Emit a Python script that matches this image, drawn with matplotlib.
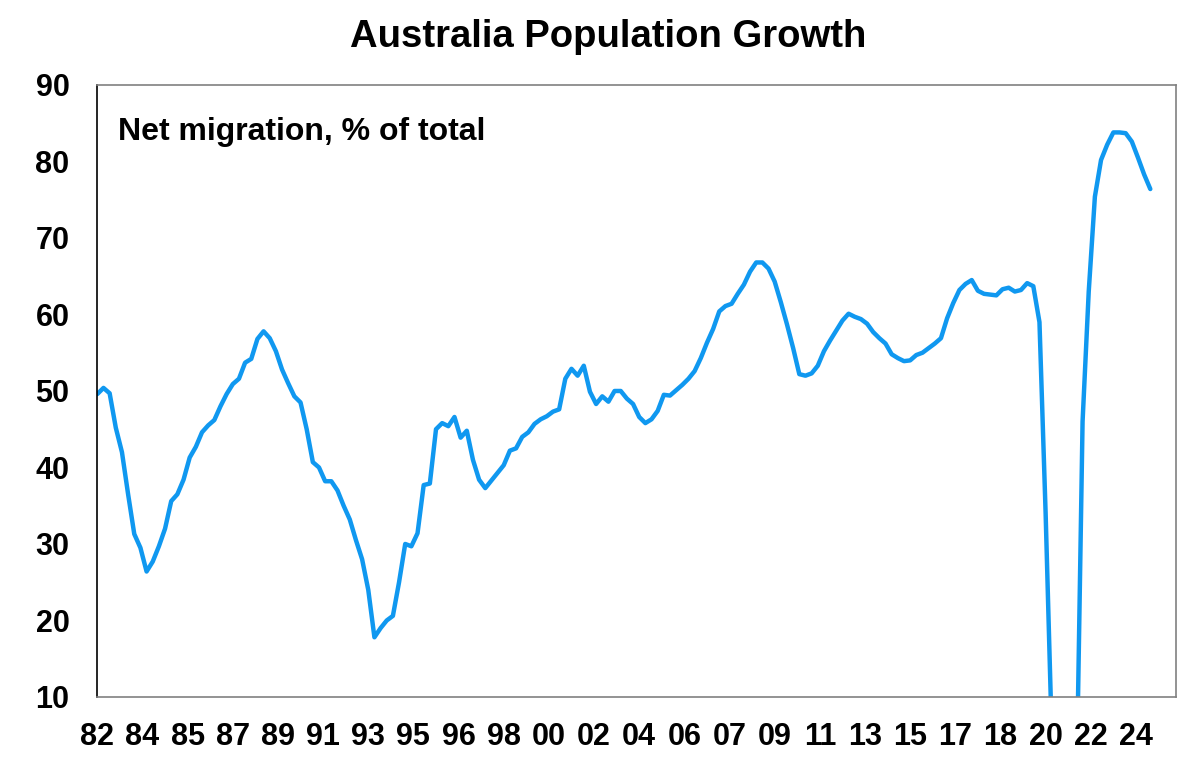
"""
Australia population growth: net migration as a share of total growth.
Quarterly series from Mar-82, drawn on a month axis with labels every 22 months.
"""

import numpy as np
import matplotlib
matplotlib.use("Agg")
import matplotlib.pyplot as plt

# net migration, % of total population growth (quarterly, from Mar-82)
net_migration_pct = [
    49.6, 50.4, 49.7, 45.2, 42.0, 36.5, 31.3, 29.5, 26.4,
    27.7, 29.7, 32.0, 35.6, 36.5, 38.4, 41.3, 42.7, 44.6, 45.5, 46.2, 48.0,
    49.6, 50.9, 51.6, 53.7, 54.2, 56.8, 57.8, 56.9, 55.2, 52.8, 51.0, 49.3, 48.5,
    45.0, 40.7, 40.0, 38.2, 38.2, 37.0, 35.0, 33.2, 30.5, 28.0, 24.0,
    17.8, 19.0, 20.0, 20.6, 25.0, 30.0, 29.7, 31.4, 37.7, 37.9, 45.0, 45.8,
    45.4, 46.6, 43.9, 44.8,
    41.0, 38.4, 37.3, 38.3, 39.3, 40.3, 42.2, 42.5, 44.0, 44.6, 45.7, 46.3,
    46.7, 47.3, 47.6,
    51.6, 52.9, 52.0, 53.3, 49.9, 48.3, 49.3, 48.6, 50.0, 50.0, 49.0, 48.3,
    46.6, 45.8, 46.3, 47.4,
    49.5, 49.4, 50.1, 50.8, 51.6, 52.6, 54.3, 56.3, 58.1, 60.4, 61.1, 61.4,
    62.7, 63.9, 65.6, 66.8,
    66.8, 66.0, 64.3, 61.6, 58.7, 55.6, 52.2, 52.0, 52.3, 53.3, 55.2, 56.6,
    57.9, 59.2,
    60.1, 59.7, 59.4, 58.8, 57.7, 56.9, 56.2, 54.8, 54.3, 53.9, 54.0, 54.7,
    55.0, 55.6, 56.2, 56.9,
    59.5, 61.5, 63.2, 64.0, 64.5, 63.1, 62.7, 62.6, 62.5, 63.3, 63.5, 63.0,
    63.2, 64.1, 63.7, 59.0,
    34.0, 5.0, -20.0, -35.0, -25.0, -3.0, 46.0, 63.0, 75.4, 80.2, 82.2, 83.8,
    83.8, 83.7, 82.6, 80.5, 78.3, 76.4,
]
# x-axis labels, one every 22 months starting Mar-82
tick_labels = ["82", "84", "85", "87", "89", "91", "93", "95", "96", "98",
               "00", "02", "04", "06", "07", "09", "11", "13", "15", "17",
               "18", "20", "22", "24"]
y_ticks = [10, 20, 30, 40, 50, 60, 70, 80, 90]

plt.rcParams['font.family'] = ['Liberation Sans', 'DejaVu Sans']
plt.rcParams['font.weight'] = 'bold'

months = np.arange(len(net_migration_pct)) * 3   # months since Mar-82
tick_pos = np.arange(len(tick_labels)) * 22

fig = plt.figure(figsize=(12, 7.72), dpi=100)
ax = fig.add_axes([0.0811, 0.0972, 0.8987, 0.7927])

ax.plot(months, net_migration_pct, color='#1098F0', linewidth=3.2,
        solid_joinstyle='round', solid_capstyle='round', clip_on=True)

ax.set_xlim(0, 525.4)
ax.set_ylim(10, 90)
ax.set_xticks(tick_pos)
ax.set_xticklabels(tick_labels)
ax.set_yticks(y_ticks)
ax.tick_params(axis='both', length=0, labelsize=22)
ax.tick_params(axis='x', pad=18)
ax.tick_params(axis='y', pad=20)
for lbl in ax.get_xticklabels() + ax.get_yticklabels():
    lbl.set_fontweight('bold')

for side in ['top', 'right', 'bottom']:
    ax.spines[side].set_color('#808080')
    ax.spines[side].set_linewidth(1.2)
ax.spines['left'].set_color('black')
ax.spines['left'].set_linewidth(1.2)

ax.text(0.0192, 0.923, "Net migration, % of total", transform=ax.transAxes,
        fontsize=23, fontweight='bold', va='center', ha='left')
fig.text(608 / 1200, 1 - 37 / 772, "Australia Population Growth",
         fontsize=27.5, fontweight='bold', ha='center', va='center')

fig.savefig('out.png', dpi=100)
